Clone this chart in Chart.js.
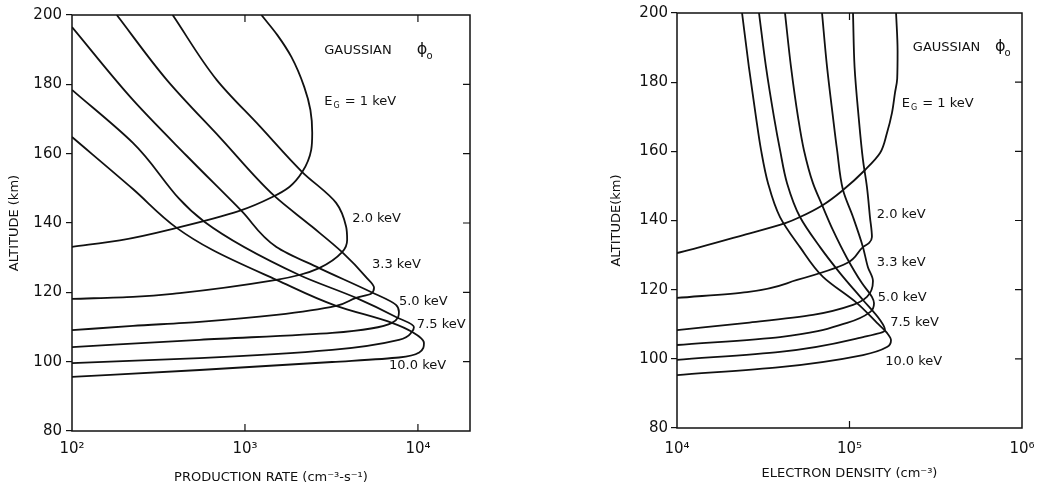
<!DOCTYPE html>
<html>
<head>
<meta charset="utf-8">
<script src="https://cdn.jsdelivr.net/npm/chart.js@4.4.1/dist/chart.umd.min.js"></script>
<style>
    html, body { margin: 0; padding: 0; background: #fff; }
    #quadro { position: relative; width: 1051px; height: 492px; }
    #graficoProducao { position: absolute; left: 0; top: 0; }
    #graficoDensidade { position: absolute; left: 590px; top: 0; }
</style>
</head>
<body>
<div id="quadro">
    <canvas id="graficoProducao" width="500" height="492"></canvas>
    <canvas id="graficoDensidade" width="461" height="492"></canvas>
</div>
<script>
// eixos
var altMin = 80;
var altMax = 200;
var prodTickValues = [100, 1000, 10000];
var prodTickLabels = ['10²', '10³', '10⁴'];
var densTickValues = [10000, 100000, 1000000];
var densTickLabels = ['10⁴', '10⁵', '10⁶'];

// painel esquerdo: taxa de producao (cm-3 s-1) x altitude (km)
var prodRate1 = [1245, 1540, 1855, 2203, 2390, 2448, 2415, 2143, 1805, 1440, 929, 403, 189, 100];
var prodAlt1 = [200, 194.2, 187.9, 179.2, 172.6, 166, 161.1, 154.7, 150.4, 147.5, 143.5, 138.6, 135, 133.1];
var prodRate2 = [382, 686, 1213, 2143, 3365, 3845, 3897, 3645, 2685, 2060, 1520, 419, 225, 100];
var prodAlt2 = [200, 181.3, 168, 154.7, 145.8, 138.9, 135.1, 131.6, 127, 125, 123.6, 119.8, 118.7, 118.1];
var prodRate33 = [181.5, 353, 722, 1479, 2448, 3645, 5015, 5575, 5355, 4393, 3365, 1520, 547, 225, 100];
var prodAlt33 = [200, 181.3, 164.5, 147.8, 138.9, 131.6, 124.4, 121.3, 119.6, 118.4, 116.1, 113.5, 111.5, 110.3, 109.1];
var prodRate5 = [100, 225, 460, 955, 1520, 2685, 5355, 7465, 7765, 7080, 3190, 547, 100];
var prodAlt5 = [196.5, 175.5, 159.4, 143.5, 133.1, 127, 120.1, 116.4, 114.3, 111.2, 108.3, 106.3, 104.2];
var prodRate75 = [100, 225, 585, 2060, 4393, 7465, 9480, 9225, 7765, 3190, 547, 100];
var prodAlt75 = [178.4, 163.1, 140.3, 125, 118.4, 112.9, 110, 108.6, 106.3, 103.4, 101, 99.6];
var prodRate10 = [100, 225, 403, 650, 1520, 3365, 7080, 9225, 10835, 10130, 7765, 3190, 547, 100];
var prodAlt10 = [164.8, 149.8, 138.6, 132.2, 123.6, 116.1, 111.2, 108.6, 105.4, 102.6, 101.2, 99.9, 97.6, 95.6];

// painel direito: densidade eletronica (cm-3) x altitude (km)
var dens1 = [186200, 190000, 189000, 183500, 176300, 164900, 150300, 123000, 91700, 70200, 51650, 42850, 23170, 13600, 10000];
var densAlt1 = [200, 189, 181, 176.9, 171.1, 165.3, 159.5, 154.6, 148.8, 144.5, 141, 139.3, 135.5, 132.3, 130.6];
var dens2 = [104800, 107000, 113000, 119700, 126200, 131400, 134900, 130000, 119700, 96800, 49650, 25470, 10000];
var densAlt2 = [200, 184.4, 169.9, 157.5, 149.7, 141, 135.2, 133.5, 132.3, 127.7, 122.8, 119.3, 117.6];
var dens33 = [69300, 74100, 80200, 84700, 91700, 104800, 119700, 127900, 136800, 126200, 104800, 61400, 25470, 10000];
var densAlt33 = [200, 184.4, 169.9, 160.4, 148.8, 141, 132.3, 126.5, 122.5, 117.9, 115.6, 112.7, 110.4, 108.3];
var dens5 = [42270, 45800, 50300, 54400, 61400, 69300, 80200, 96800, 118000, 134900, 138700, 131400, 96800, 39550, 10000];
var densAlt5 = [200, 184.4, 169.9, 160.4, 150.8, 144.5, 137.2, 129.1, 121.9, 117.9, 116.1, 113.5, 110.4, 106.3, 104];
var dens75 = [29880, 32800, 36500, 39550, 43440, 51650, 67500, 88100, 119700, 150300, 160600, 119700, 39550, 10000];
var densAlt75 = [200, 184.4, 169.9, 160.4, 150.8, 141, 132.3, 124.8, 117, 111.2, 108.3, 106.3, 102, 99.7];
var dens10 = [23830, 26100, 28700, 30700, 33700, 39550, 51650, 70200, 110500, 144300, 164900, 174000, 164900, 119700, 39550, 10000];
var densAlt10 = [200, 184.4, 169.9, 160.4, 150.8, 141, 132.3, 123.7, 116.1, 110.4, 107.5, 105.4, 103.4, 101.1, 97.6, 95.3];

// rotulos das curvas (posicao em unidades dos eixos)
var energiaTextos = ['2.0 keV', '3.3 keV', '5.0 keV', '7.5 keV', '10.0 keV'];
var prodRotuloX = [4170, 5430, 7765, 9860, 6810];
var prodRotuloY = [141.4, 127.9, 117.2, 110.6, 99];
var densRotuloX = [144000, 144000, 146000, 172000, 161000];
var densRotuloY = [141.6, 127.7, 117.6, 110.6, 99.1];

var corLinha = '#111';
var fonte = "'DejaVu Sans', sans-serif";

function montarSerie(xs, ys) {
    return xs.map(function (x, i) {
        return { x: x, y: ys[i] };
    });
}

function montarDataset(xs, ys) {
    // altitude sempre decresce ao longo da curva: interpolacao monotona em y
    return {
        data: montarSerie(xs, ys),
        showLine: true,
        borderColor: corLinha,
        borderWidth: 1.8,
        pointRadius: 0,
        cubicInterpolationMode: 'monotone',
        fill: false
    };
}

var pluginMoldura = {
    id: 'moldura',
    afterDatasetsDraw: function (chart) {
        var ctx = chart.ctx;
        var a = chart.chartArea;
        var sx = chart.scales.x;
        var sy = chart.scales.y;

        ctx.save();
        ctx.strokeStyle = corLinha;
        ctx.lineWidth = 1.5;
        ctx.strokeRect(a.left, a.top, a.right - a.left, a.bottom - a.top);

        ctx.lineWidth = 1.2;
        ctx.beginPath();
        sx.ticks.forEach(function (t) {
            var px = sx.getPixelForValue(t.value);
            if (px <= a.left + 1 || px >= a.right - 1) {
                return;
            }
            ctx.moveTo(px, a.bottom);
            ctx.lineTo(px, a.bottom - 7);
            ctx.moveTo(px, a.top);
            ctx.lineTo(px, a.top + 7);
        });
        sy.ticks.forEach(function (t) {
            var py = sy.getPixelForValue(t.value);
            if (py <= a.top + 1 || py >= a.bottom - 1) {
                return;
            }
            ctx.moveTo(a.right, py);
            ctx.lineTo(a.right - 7, py);
        });
        ctx.stroke();
        ctx.restore();
    }
};

function criarPluginRotulos(cfg) {
    return {
        id: 'rotulos',
        afterDraw: function (chart) {
            var ctx = chart.ctx;
            var sx = chart.scales.x;
            var sy = chart.scales.y;

            ctx.save();
            ctx.fillStyle = corLinha;
            ctx.textAlign = 'left';
            ctx.textBaseline = 'middle';

            cfg.textos.forEach(function (texto, i) {
                ctx.font = '13px ' + fonte;
                ctx.fillText(texto, sx.getPixelForValue(cfg.xs[i]), sy.getPixelForValue(cfg.ys[i]));
            });

            // GAUSSIAN phi0
            var gx = sx.getPixelForValue(cfg.gaussX);
            var gy = sy.getPixelForValue(cfg.gaussY);
            ctx.font = '13px ' + fonte;
            ctx.fillText('GAUSSIAN', gx, gy);
            var fx = sx.getPixelForValue(cfg.phiX);
            ctx.font = '16px ' + fonte;
            ctx.fillText('ϕ', fx, gy - 1);
            var wf = ctx.measureText('ϕ').width;
            ctx.font = '10px ' + fonte;
            ctx.fillText('o', fx + wf - 1, gy + 5);

            // E_G = 1 keV
            var ex = sx.getPixelForValue(cfg.egX);
            var ey = sy.getPixelForValue(cfg.egY);
            ctx.font = '13px ' + fonte;
            ctx.fillText('E', ex, ey);
            var we = ctx.measureText('E').width;
            ctx.font = '8px ' + fonte;
            ctx.fillText('G', ex + we + 1, ey + 4);
            var wg = ctx.measureText('G').width;
            ctx.font = '13px ' + fonte;
            ctx.fillText(' = 1 keV', ex + we + wg + 2, ey);

            ctx.restore();
        }
    };
}

function criarPainel(canvasId, datasets, eixo, rotulos) {
    var ctx = document.getElementById(canvasId).getContext('2d');

    return new Chart(ctx, {
        type: 'scatter',
        data: { datasets: datasets },
        plugins: [pluginMoldura, criarPluginRotulos(rotulos)],
        options: {
            indexAxis: 'y',
            responsive: false,
            animation: false,
            layout: { padding: { left: 0, top: eixo.padTop, right: eixo.padRight, bottom: 0 } },
            plugins: {
                legend: { display: false },
                tooltip: { enabled: false }
            },
            scales: {
                x: {
                    type: 'logarithmic',
                    min: eixo.xMin,
                    max: eixo.xMax,
                    afterBuildTicks: function (scale) {
                        scale.ticks = eixo.tickValues.map(function (v) { return { value: v }; });
                    },
                    afterFit: function (scale) { scale.height = eixo.xHeight; },
                    grid: { display: false, drawTicks: false },
                    border: { display: false },
                    ticks: {
                        autoSkip: false,
                        maxRotation: 0,
                        padding: eixo.xTickPad,
                        color: corLinha,
                        font: { family: fonte, size: 15 },
                        callback: function (value, index) {
                            return eixo.tickLabels[index];
                        }
                    },
                    title: {
                        display: true,
                        text: eixo.xTitle,
                        color: corLinha,
                        font: { family: fonte, size: 13 },
                        padding: { top: 0, bottom: eixo.xTitlePad }
                    }
                },
                y: {
                    type: 'linear',
                    min: altMin,
                    max: altMax,
                    afterFit: function (scale) { scale.width = eixo.yWidth; },
                    grid: {
                        drawOnChartArea: false,
                        drawTicks: true,
                        tickLength: 6,
                        color: corLinha,
                        lineWidth: 1.2
                    },
                    border: { display: false },
                    ticks: {
                        stepSize: 20,
                        padding: eixo.yTickPad,
                        color: corLinha,
                        font: { family: fonte, size: 15 }
                    },
                    title: {
                        display: true,
                        text: eixo.yTitle,
                        color: corLinha,
                        font: { family: fonte, size: 13 },
                        padding: { top: eixo.yTitlePad, bottom: 0 }
                    }
                }
            }
        }
    });
}

criarPainel('graficoProducao', [
    montarDataset(prodRate1, prodAlt1),
    montarDataset(prodRate2, prodAlt2),
    montarDataset(prodRate33, prodAlt33),
    montarDataset(prodRate5, prodAlt5),
    montarDataset(prodRate75, prodAlt75),
    montarDataset(prodRate10, prodAlt10)
], {
    xMin: 100, xMax: 20000,
    tickValues: prodTickValues, tickLabels: prodTickLabels,
    padTop: 15, padRight: 30,
    xHeight: 61, yWidth: 72,
    xTickPad: 9, yTickPad: 4,
    xTitle: 'PRODUCTION RATE (cm⁻³-s⁻¹)', xTitlePad: 7,
    yTitle: 'ALTITUDE (km)', yTitlePad: 7
}, {
    textos: energiaTextos, xs: prodRotuloX, ys: prodRotuloY,
    gaussX: 2870, gaussY: 189.6, phiX: 9860,
    egX: 2870, egY: 174.9
});

criarPainel('graficoDensidade', [
    montarDataset(dens1, densAlt1),
    montarDataset(dens2, densAlt2),
    montarDataset(dens33, densAlt33),
    montarDataset(dens5, densAlt5),
    montarDataset(dens75, densAlt75),
    montarDataset(dens10, densAlt10)
], {
    xMin: 10000, xMax: 1000000,
    tickValues: densTickValues, tickLabels: densTickLabels,
    padTop: 13, padRight: 29,
    xHeight: 64, yWidth: 87,
    xTickPad: 12, yTickPad: 3,
    xTitle: 'ELECTRON DENSITY (cm⁻³)', xTitlePad: 11,
    yTitle: 'ALTITUDE(km)', yTitlePad: 19
}, {
    textos: energiaTextos, xs: densRotuloX, ys: densRotuloY,
    gaussX: 233000, gaussY: 189.9, phiX: 697000,
    egX: 201000, egY: 173.7
});
</script>
</body>
</html>
